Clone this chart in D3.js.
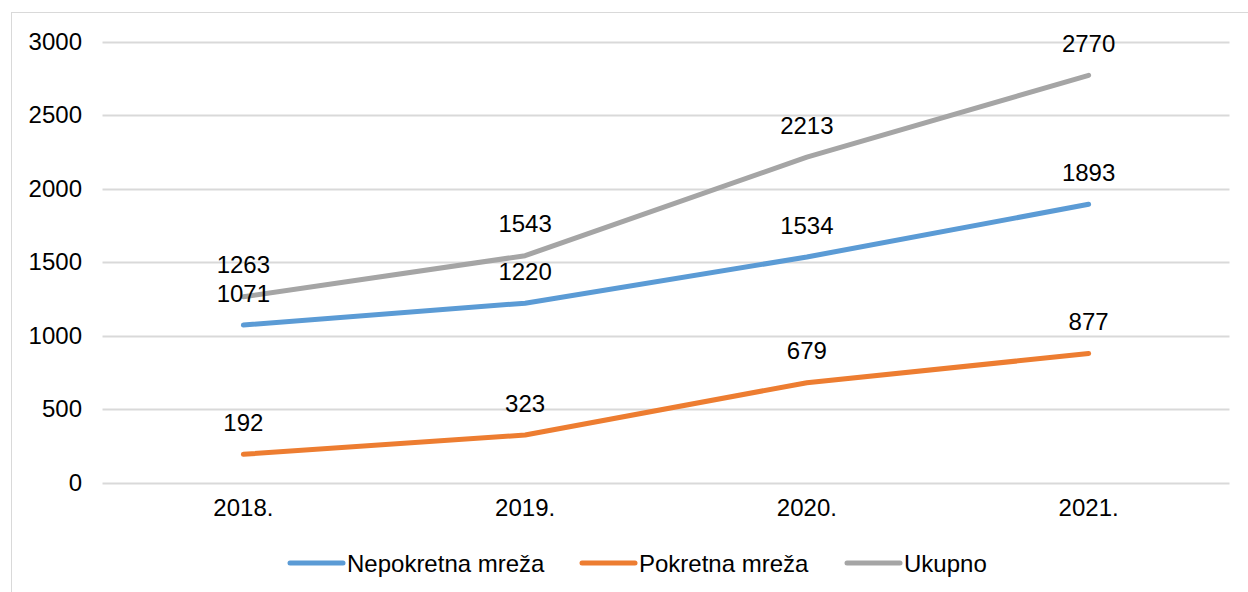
<!DOCTYPE html>
<html>
<head>
<meta charset="utf-8">
<script src="https://cdn.jsdelivr.net/npm/d3@7"></script>
<style>
	body { margin: 0; background: #fff; }
	svg { display: block; font-family: "Liberation Sans", Arial, sans-serif; }
</style>
</head>
<body>
<div id="diagram"></div>
<script>
const years = ["2018.", "2019.", "2020.", "2021."];
const nepokretna = [1071, 1220, 1534, 1893];
const pokretna = [192, 323, 679, 877];
const ukupno = [1263, 1543, 2213, 2770];
const yTicks = [0, 500, 1000, 1500, 2000, 2500, 3000];

const series = [
	{ name: "Nepokretna mreža", values: nepokretna, color: "#5B9BD5" },
	{ name: "Pokretna mreža", values: pokretna, color: "#ED7D31" },
	{ name: "Ukupno", values: ukupno, color: "#A5A5A5" }
];

const width = 1248;
const height = 592;
const fontSize = 24;

const svg = d3.select("#diagram")
	.append("svg")
	.attr("width", width)
	.attr("height", height);

// chart border (runs off the right and bottom edges)
svg.append("rect")
	.attr("x", 11.5)
	.attr("y", 12.5)
	.attr("width", width + 20)
	.attr("height", height + 20)
	.attr("fill", "none")
	.attr("stroke", "#D9D9D9");

const xScale = d3.scaleBand()
	.domain(years)
	.range([102.5, 1229.5]);

const yScale = d3.scaleLinear()
	.domain([0, 3000])
	.range([482.5, 41.5]);

// gridlines
svg.append("g")
	.selectAll("line")
	.data(yTicks)
	.enter()
	.append("line")
	.attr("x1", 102.5)
	.attr("x2", 1229.5)
	.attr("y1", d => Math.round(yScale(d)) + 0.5)
	.attr("y2", d => Math.round(yScale(d)) + 0.5)
	.attr("stroke", "#D9D9D9")
	.attr("stroke-width", 2);

// y axis labels
const yAxis = svg.append("g")
	.attr("transform", "translate(82,0)")
	.call(d3.axisLeft(yScale).tickValues(yTicks).tickFormat(d3.format("d")).tickSize(0).tickPadding(0));
yAxis.select(".domain").remove();
yAxis.selectAll("text")
	.attr("font-size", fontSize)
	.attr("font-family", "Liberation Sans, Arial, sans-serif")
	.attr("fill", "#000");

// x axis labels
const xAxis = svg.append("g")
	.attr("transform", "translate(0,499)")
	.call(d3.axisBottom(xScale).tickSize(0).tickPadding(0));
xAxis.select(".domain").remove();
xAxis.selectAll("text")
	.attr("font-size", fontSize)
	.attr("font-family", "Liberation Sans, Arial, sans-serif")
	.attr("fill", "#000");

const cx = d => xScale(d) + xScale.bandwidth() / 2;

const line = d3.line()
	.x((d, i) => cx(years[i]))
	.y(d => yScale(d));

series.forEach(function(s) {
	svg.append("path")
		.datum(s.values)
		.attr("d", line)
		.attr("fill", "none")
		.attr("stroke", s.color)
		.attr("stroke-width", 5)
		.attr("stroke-linecap", "round")
		.attr("stroke-linejoin", "round");
});

// value labels
series.forEach(function(s) {
	svg.append("g")
		.selectAll("text")
		.data(s.values)
		.enter()
		.append("text")
		.text(d => d)
		.attr("text-anchor", "middle")
		.attr("font-size", fontSize)
		.attr("fill", "#000")
		.attr("x", (d, i) => cx(years[i]))
		.attr("y", d => yScale(d) - 23.5);
});

// legend
const legendX = [290, 582, 847];
const legend = svg.append("g")
	.selectAll("g")
	.data(series)
	.enter()
	.append("g")
	.attr("transform", (d, i) => `translate(${legendX[i]},563)`);

legend.append("line")
	.attr("x1", 0)
	.attr("x2", 53)
	.attr("stroke", d => d.color)
	.attr("stroke-width", 5)
	.attr("stroke-linecap", "round");

legend.append("text")
	.text(d => d.name)
	.attr("x", 57)
	.attr("y", 8.5)
	.attr("font-size", fontSize)
	.attr("fill", "#000");
</script>
</body>
</html>
